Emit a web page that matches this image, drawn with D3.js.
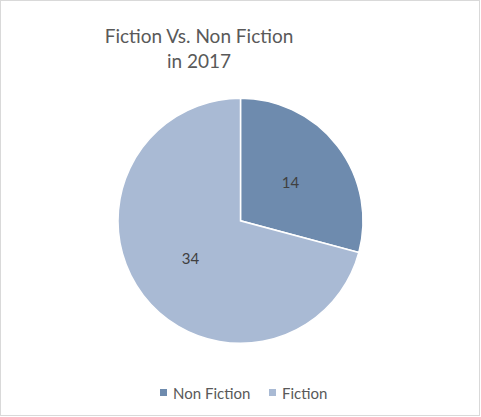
<!DOCTYPE html>
<html>
<head>
  <meta charset="utf-8">
  <script src="https://d3js.org/d3.v7.min.js"></script>
  <style>
    body { margin: 0; background: #fff; }
    text { font-family: Lato, "Open Sans", sans-serif; }
  </style>
</head>
<body>
  <svg id="chart" width="481" height="417"></svg>
  <script>
  const categories = ["Non Fiction", "Fiction"];
  const values = [14, 34];
  const colors = ["#6E8BAE", "#A9BAD4"];
  const titleLines = ["Fiction Vs. Non Fiction", "in 2017"];

  const svg = d3.select("#chart");
  const cx = 240.5, cy = 220.8, radius = 122.5;

  // chart frame
  svg.append("rect")
      .attr("x", 0.5).attr("y", 0.5)
      .attr("width", 479).attr("height", 415)
      .attr("fill", "#fff")
      .attr("stroke", "#D9D9D9");

  svg.selectAll("text.title").data(titleLines)
     .join("text")
     .attr("class", "title")
     .attr("x", 199)
     .attr("y", (d, i) => 43 + i * 25)
     .attr("text-anchor", "middle")
     .attr("fill", "#595959")
     .style("font-size", "19px")
     .text(d => d);

  const data = categories.map((c, i) => ({ name: c, value: values[i] }));
  const pie = d3.pie().value(d => d.value).sort(null);
  const arc = d3.arc().innerRadius(0).outerRadius(radius);
  const labelArc = d3.arc().innerRadius(63).outerRadius(63);
  const color = d3.scaleOrdinal().domain(categories).range(colors);

  const g = svg.append("g").attr("transform", "translate(" + cx + "," + cy + ")");
  const arcs = pie(data);

  g.selectAll("path").data(arcs)
   .join("path")
   .attr("d", arc)
   .attr("fill", d => color(d.data.name))
   .attr("stroke", "#fff")
   .attr("stroke-width", 1.5);

  g.selectAll("text").data(arcs)
   .join("text")
   .attr("transform", d => "translate(" + labelArc.centroid(d) + ")")
   .attr("text-anchor", "middle")
   .attr("dy", "0.35em")
   .attr("fill", "#404040")
   .style("font-size", "15px")
   .text(d => d.data.value);

  // legend
  const legendX = [160, 269];
  const legend = svg.selectAll("g.legend").data(categories)
     .join("g")
     .attr("class", "legend")
     .attr("transform", (d, i) => "translate(" + legendX[i] + ",389)");

  legend.append("rect")
     .attr("width", 7).attr("height", 7)
     .attr("fill", d => color(d));

  legend.append("text")
     .attr("x", 13)
     .attr("y", 10)
     .attr("fill", "#595959")
     .style("font-size", "15px")
     .text(d => d);
  </script>
</body>
</html>
